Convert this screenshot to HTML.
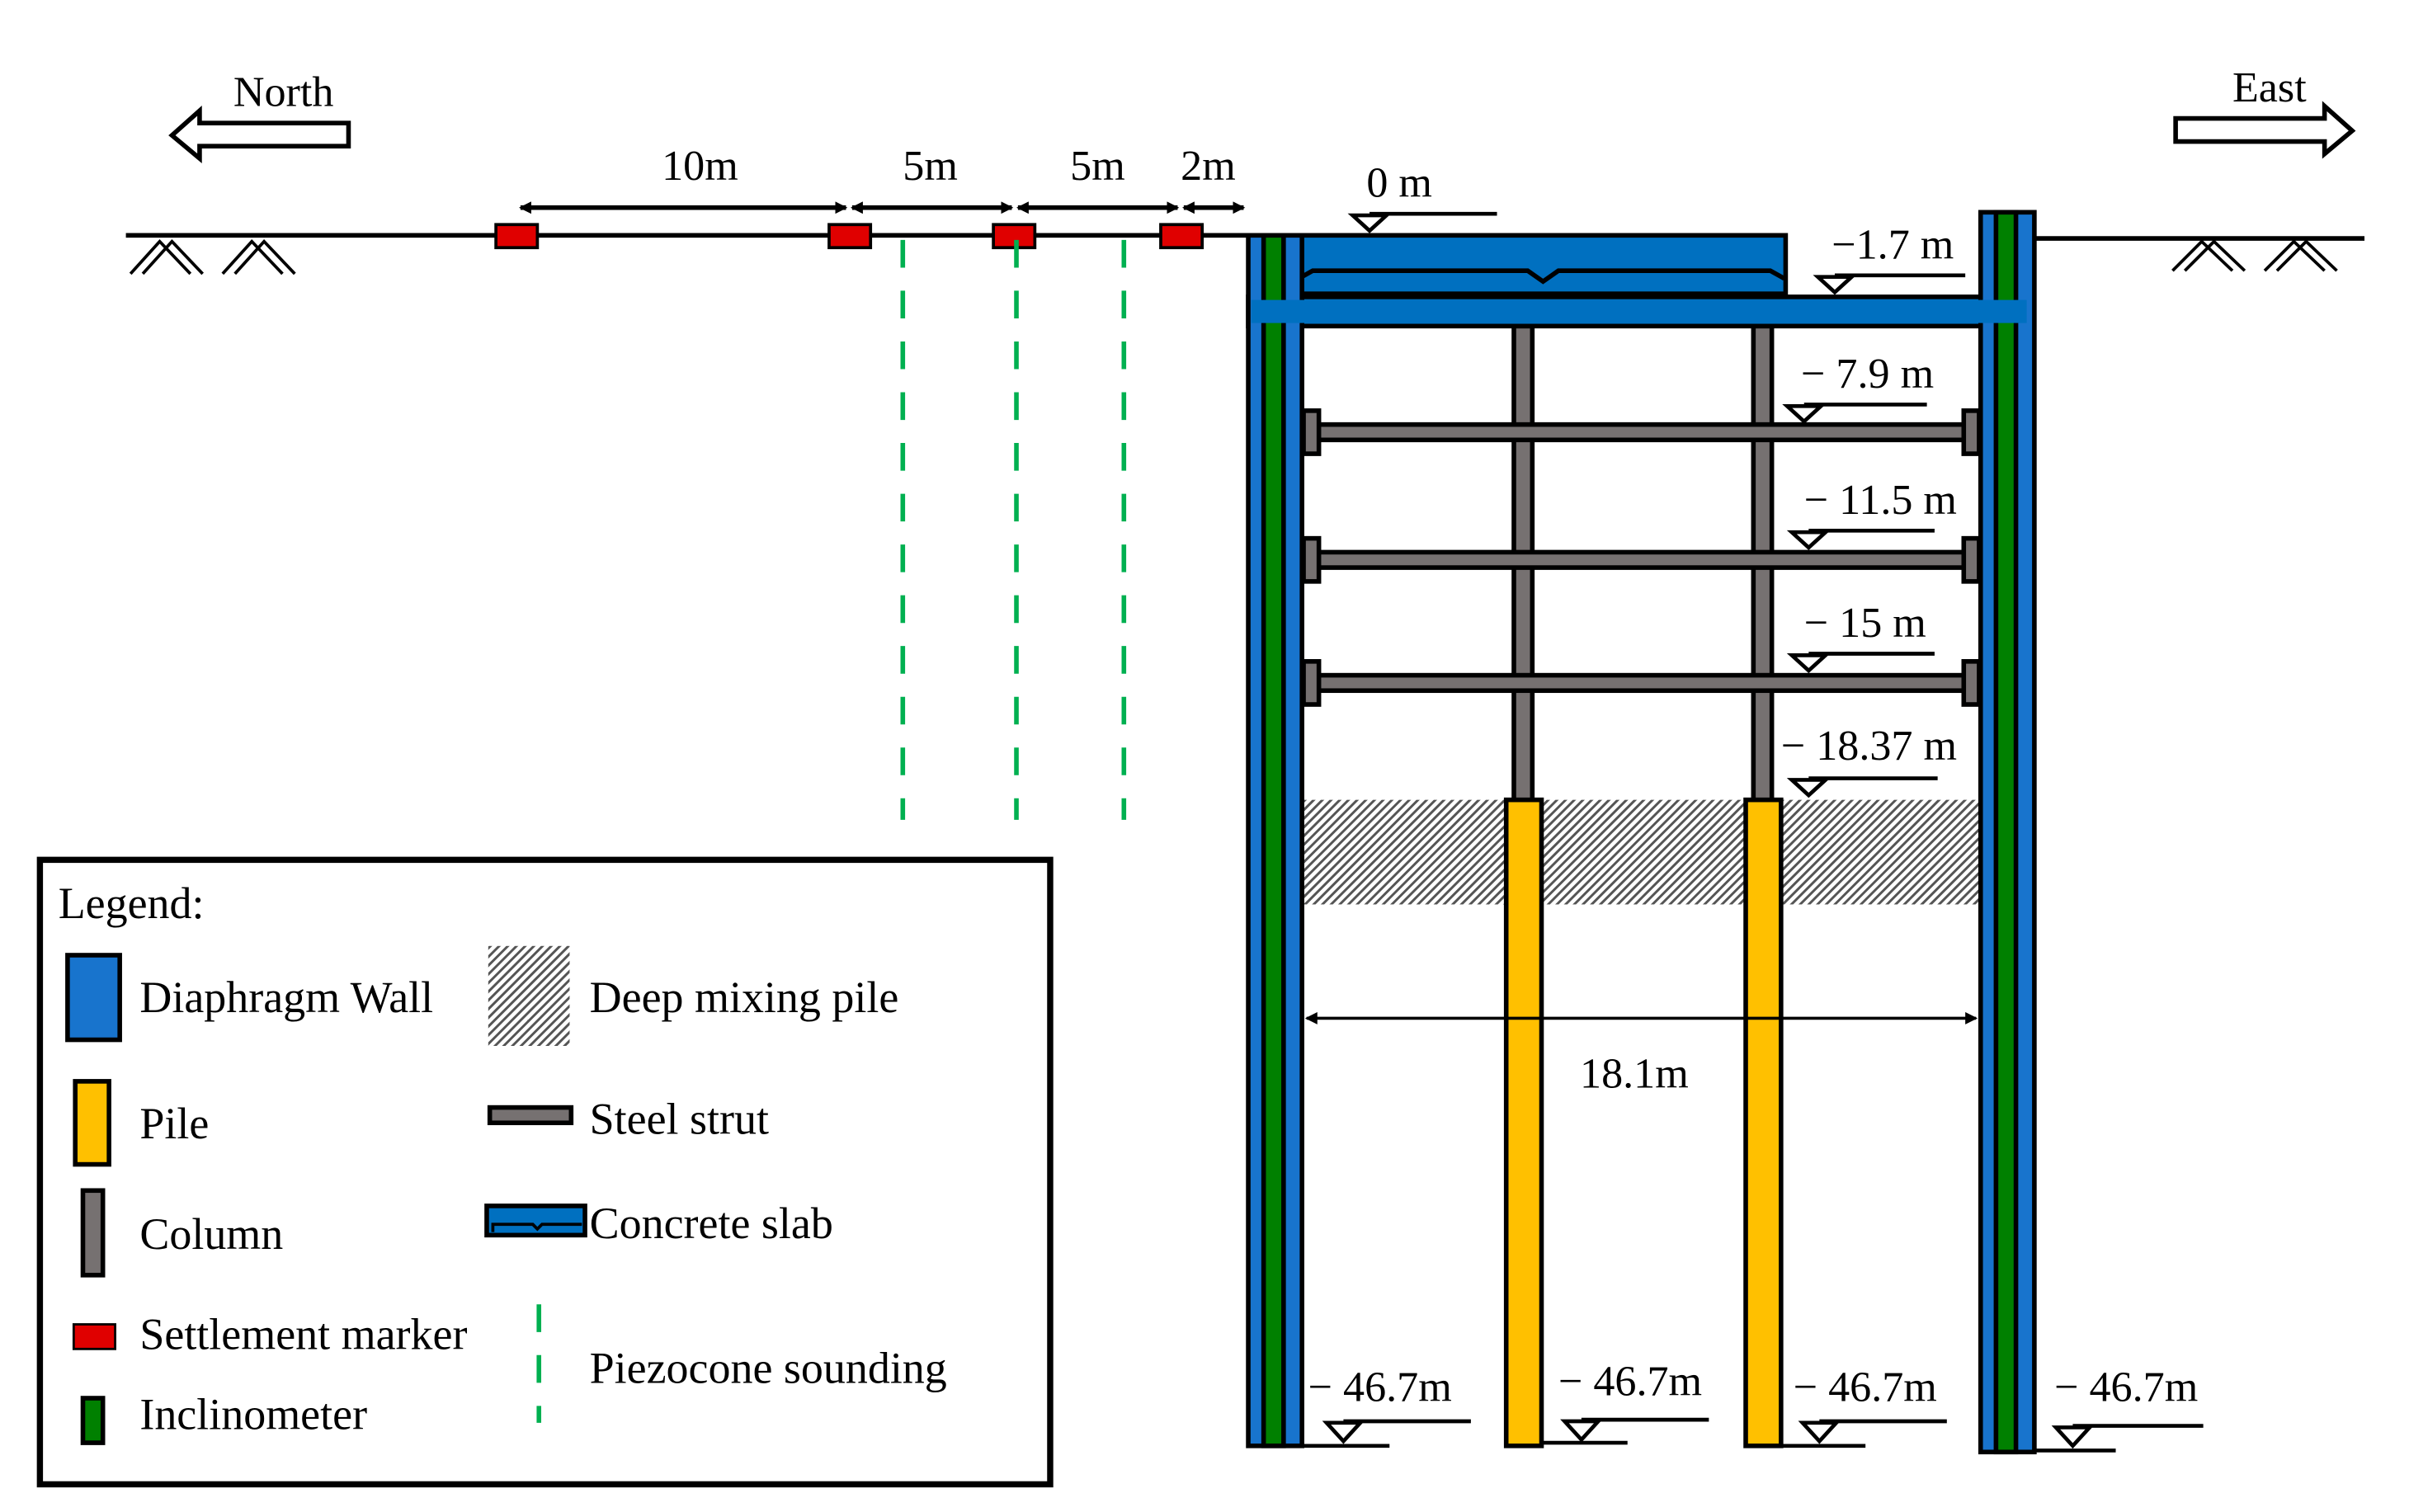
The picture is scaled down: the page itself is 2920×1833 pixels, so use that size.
<!DOCTYPE html>
<html><head><meta charset="utf-8"><style>html,body{margin:0;padding:0;background:#fff}svg{display:block}text{font-family:"Liberation Serif",serif;fill:#000}</style></head>
<body>
<svg width="2920" height="1833" viewBox="0 0 1569 983" preserveAspectRatio="none" xmlns="http://www.w3.org/2000/svg">
<defs>
<pattern id="h" width="4" height="4" patternUnits="userSpaceOnUse" patternTransform="rotate(45)"><rect width="4" height="4" fill="#fff"/><rect width="1.6" height="4" fill="#555"/></pattern>
<marker id="a" markerWidth="8" markerHeight="8" refX="7" refY="4" orient="auto-start-reverse" markerUnits="userSpaceOnUse"><path d="M0,0 L8,4 L0,8 Z" fill="#000"/></marker>
</defs>
<line x1="82" y1="153" x2="813" y2="153" stroke="#000" stroke-width="3"/>
<line x1="1322" y1="155" x2="1540" y2="155" stroke="#000" stroke-width="3"/>
<g stroke="#000" stroke-width="2" fill="none">
<path d="M85,178 L104,157 L124,178 M93,178 L112,157 L132,178 M145,178 L164,157 L184,178 M153,178 L172,157 L192,178"/>
<path d="M1415,176 L1434,157 L1454,176 M1423,176 L1442,157 L1462,176 M1475,176 L1494,157 L1514,176 M1483,176 L1502,157 L1522,176"/>
</g>
<path d="M112,88 L130,72 L130,80 L227,80 L227,95 L130,95 L130,103 Z" fill="#fff" stroke="#000" stroke-width="3"/>
<text x="152" y="69" font-size="28">North</text>
<path d="M1532,85 L1514,69 L1514,77 L1417,77 L1417,92 L1514,92 L1514,100 Z" fill="#fff" stroke="#000" stroke-width="3"/>
<text x="1454" y="66" font-size="28">East</text>
<g stroke="#000" stroke-width="3" marker-start="url(#a)" marker-end="url(#a)">
<line x1="339" y1="135" x2="551" y2="135"/><line x1="555" y1="135" x2="659" y2="135"/><line x1="663" y1="135" x2="767" y2="135"/><line x1="771" y1="135" x2="810" y2="135"/>
</g>
<g font-size="28"><text x="431" y="117">10m</text><text x="588" y="117">5m</text><text x="697" y="117">5m</text><text x="769" y="117">2m</text></g>
<g fill="#e00000" stroke="#000" stroke-width="2"><rect x="323" y="146" width="27" height="15"/><rect x="540" y="146" width="27" height="15"/><rect x="647" y="146" width="27" height="15"/><rect x="756" y="146" width="27" height="15"/></g>
<g stroke="#00b050" stroke-width="3" stroke-dasharray="18,15"><line x1="588" y1="156" x2="588" y2="533"/><line x1="662" y1="156" x2="662" y2="533"/><line x1="732" y1="156" x2="732" y2="533"/></g>
<rect x="848" y="520" width="442" height="68" fill="url(#h)"/>
<g fill="#767171" stroke="#000" stroke-width="3"><rect x="986" y="212" width="12" height="310"/><rect x="1142" y="212" width="12" height="310"/></g>
<g fill="#ffc000" stroke="#000" stroke-width="3"><rect x="981" y="520" width="23" height="420"/><rect x="1137" y="520" width="23" height="420"/></g>
<g fill="#767171" stroke="#000" stroke-width="3">
<rect x="856" y="276" width="428" height="10"/><rect x="856" y="359" width="428" height="10"/><rect x="856" y="439" width="428" height="10"/>
<rect x="849" y="267" width="10" height="28"/><rect x="849" y="350" width="10" height="28"/><rect x="849" y="430" width="10" height="28"/>
<rect x="1279" y="267" width="10" height="28"/><rect x="1279" y="350" width="10" height="28"/><rect x="1279" y="430" width="10" height="28"/>
</g>
<rect x="836" y="153" width="327" height="38" fill="#0070c0" stroke="#000" stroke-width="3"/>
<path d="M846,190 L846,181 L855,176 L995,176 L1005,183 L1015,176 L1153,176 L1162,181" fill="none" stroke="#000" stroke-width="3"/>
<rect x="813" y="193" width="509" height="19" fill="#0070c0" stroke="#000" stroke-width="3"/>
<g stroke="#000" stroke-width="3">
<rect x="813" y="153" width="35" height="787" fill="#1874cd"/>
<rect x="823" y="153" width="13" height="787" fill="#008000"/>
<rect x="1290" y="138" width="35" height="806" fill="#1874cd"/>
<rect x="1300" y="138" width="13" height="806" fill="#008000"/>
</g>
<rect x="815" y="195" width="505" height="15" fill="#0070c0"/>
<line x1="851" y1="662" x2="1287" y2="662" stroke="#000" stroke-width="2" marker-start="url(#a)" marker-end="url(#a)"/>
<text x="1029" y="707" font-size="28">18.1m</text>
<g fill="#fff" stroke="#000" stroke-width="2.5">
<path d="M881,140 L903,140 L892,150 Z"/><line x1="892" y1="139" x2="975" y2="139"/>
<path d="M1184,180 L1206,180 L1195,190 Z"/><line x1="1195" y1="179" x2="1280" y2="179"/>
<path d="M1164,264 L1186,264 L1175,274 Z"/><line x1="1175" y1="263" x2="1255" y2="263"/>
<path d="M1167,346 L1189,346 L1178,356 Z"/><line x1="1178" y1="345" x2="1260" y2="345"/>
<path d="M1167,426 L1189,426 L1178,436 Z"/><line x1="1178" y1="425" x2="1260" y2="425"/>
<path d="M1167,507 L1189,507 L1178,517 Z"/><line x1="1178" y1="506" x2="1262" y2="506"/>
</g>
<g font-size="28"><text x="890" y="128">0 m</text><text x="1193" y="168">−1.7 m</text><text x="1173" y="252">− 7.9 m</text><text x="1175" y="334">− 11.5 m</text><text x="1175" y="414">− 15 m</text><text x="1160" y="494">− 18.37 m</text></g>
<g fill="#fff" stroke="#000" stroke-width="2.5">
<path d="M864,925 L886,925 L875,937 Z"/><line x1="875" y1="924" x2="958" y2="924"/><line x1="813" y1="940" x2="905" y2="940"/>
<path d="M1019,924 L1041,924 L1030,936 Z"/><line x1="1030" y1="923" x2="1113" y2="923"/><line x1="1004" y1="938" x2="1060" y2="938"/>
<path d="M1174,925 L1196,925 L1185,937 Z"/><line x1="1185" y1="924" x2="1268" y2="924"/><line x1="1137" y1="940" x2="1215" y2="940"/>
<path d="M1339,928 L1361,928 L1350,940 Z"/><line x1="1350" y1="927" x2="1435" y2="927"/><line x1="1325" y1="943" x2="1378" y2="943"/>
</g>
<g font-size="28"><text x="852" y="911">− 46.7m</text><text x="1015" y="907">− 46.7m</text><text x="1168" y="911">− 46.7m</text><text x="1338" y="911">− 46.7m</text></g>
<rect x="26" y="559" width="658" height="406" fill="none" stroke="#000" stroke-width="4"/>
<g font-size="29">
<text x="38" y="597">Legend:</text>
<text x="91" y="658">Diaphragm Wall</text><text x="91" y="740">Pile</text><text x="91" y="812">Column</text><text x="91" y="877">Settlement marker</text><text x="91" y="929">Inclinometer</text>
<text x="384" y="658">Deep mixing pile</text><text x="384" y="737">Steel strut</text><text x="384" y="805">Concrete slab</text><text x="384" y="899">Piezocone sounding</text>
</g>
<g stroke="#000" stroke-width="3">
<rect x="44" y="621" width="34" height="55" fill="#1874cd"/>
<rect x="49" y="703" width="22" height="54" fill="#ffc000"/>
<rect x="54" y="774" width="13" height="55" fill="#767171"/>
<rect x="48" y="861" width="27" height="16" fill="#e00000" stroke-width="1.5"/>
<rect x="54" y="909" width="13" height="29" fill="#008000"/>
<rect x="319" y="720" width="53" height="10" fill="#767171"/>
<rect x="317" y="784" width="64" height="19" fill="#0070c0"/>
</g>
<path d="M321,801 L321,796 L347,796 L350,799 L353,796 L379,796" fill="none" stroke="#000" stroke-width="2"/>
<rect x="318" y="615" width="53" height="65" fill="url(#h)"/>
<line x1="351" y1="848" x2="351" y2="925" stroke="#00b050" stroke-width="3" stroke-dasharray="18,15"/>
</svg>
</body></html>
